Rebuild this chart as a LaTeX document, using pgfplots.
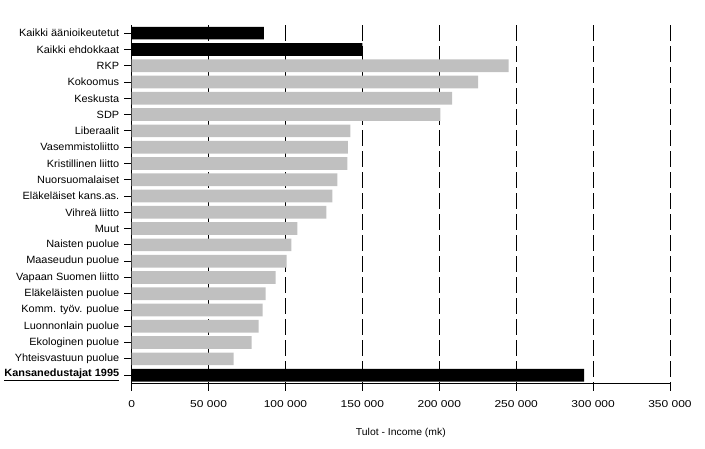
\documentclass[border=0pt]{standalone}
\usepackage{fontspec}
\setmainfont{Liberation Sans}
\newfontfamily\numfont[FakeStretch=1.2]{Liberation Sans}
\newfontfamily\labfont[FakeStretch=1.04]{Liberation Sans}
\usepackage{pgfplots}
\pgfplotsset{compat=1.18}
\definecolor{bargray}{RGB}{192,192,192}
\newcommand{\tsp}{\hspace{6bp}}
\begin{document}
\begin{tikzpicture}
\path[use as bounding box] (-131.7bp,-65.7bp) rectangle (573.3bp,383.3bp);
\begin{axis}[
  at={(0,0)}, anchor=south west,
  scale only axis,
  width=538.3bp, height=358.3bp,
  xmin=0, xmax=350000,
  ymin=-0.5, ymax=21.5,
  y dir=reverse,
  xbar, bar width=12.7bp, bar shift=0pt,
  axis x line*=bottom, axis y line*=left,
  axis line style={line width=0.8bp, -},
  tick align=outside,
  major tick length=7.5bp,
  tick style={line width=0.8bp, black},
  scaled x ticks=false,
  xtick={0,50000,100000,150000,200000,250000,300000,350000},
  xticklabels={0,50 000,100 000,150 000,200 000,250 000,300 000,350 000},
  xticklabel style={font=\numfont\fontsize{10bp}{12bp}\selectfont, yshift=-6bp},
  ytick={0,...,21},
  yticklabels={
    Kaikki äänioikeutetut,
    Kaikki ehdokkaat,
    RKP\tsp,
    Kokoomus,
    Keskusta\tsp,
    SDP\tsp,
    Liberaalit,
    Vasemmistoliitto,
    Kristillinen liitto\tsp,
    Nuorsuomalaiset,
    Eläkeläiset kans.as.\tsp,
    Vihreä liitto\tsp,
    Muut,
    Naisten puolue,
    Maaseudun puolue,
    Vapaan Suomen liitto,
    Eläkeläisten puolue\tsp,
    Komm. työv. puolue,
    Luonnonlain puolue,
    Ekologinen puolue,
    Yhteisvastuun puolue,
    {\underline{\textbf{Kansanedustajat 1995}}\hspace{4bp}}
  },
  yticklabel style={font=\labfont\fontsize{10.5bp}{12bp}\selectfont, anchor=east, xshift=-1.5bp},
  xmajorgrids,
  major grid style={black, line width=0.9bp, dash pattern=on 16bp off 5bp},
  xlabel={Tulot - Income (mk)},
  xlabel style={font=\labfont\fontsize{10bp}{12bp}\selectfont, at={(axis description cs:0.5,0)}, anchor=center, yshift=-49.7bp},
  clip=false,
]
\addplot[fill=bargray, draw=none] coordinates {
  (245000,2) (225300,3) (208400,4) (200700,5) (142200,6) (140500,7)
  (140300,8) (133800,9) (130500,10) (126600,11) (107800,12) (103900,13)
  (100700,14) (93500,15) (87000,16) (85100,17) (82500,18) (77900,19)
  (66200,20)
};
\addplot[fill=black, draw=none] coordinates {
  (86000,0) (150000,1) (294200,21)
};
\end{axis}
\end{tikzpicture}
\end{document}
